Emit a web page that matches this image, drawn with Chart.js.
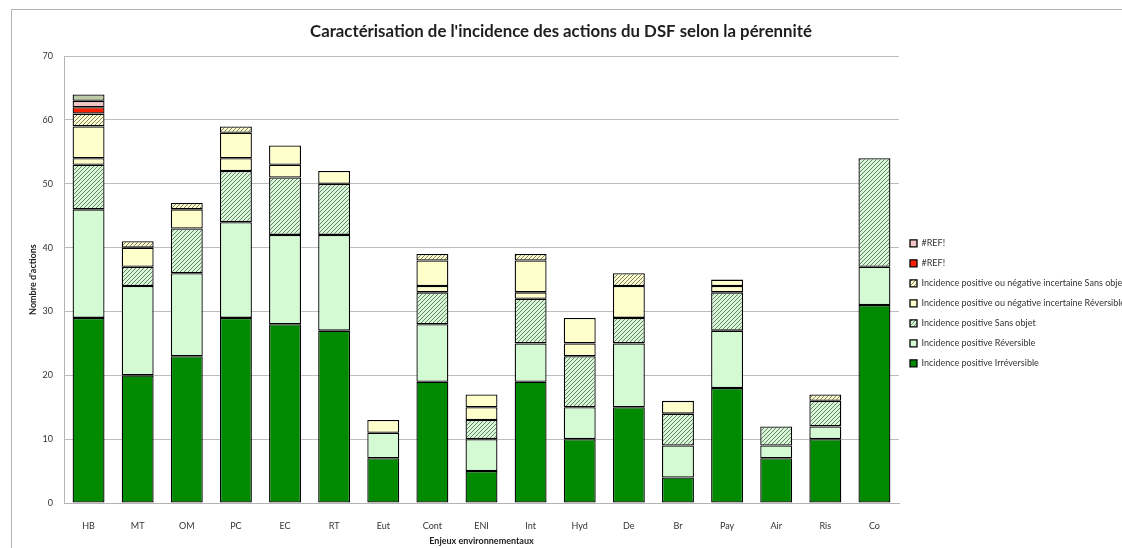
<!DOCTYPE html>
<html>
<head>
<meta charset="utf-8">
<script src="https://cdn.jsdelivr.net/npm/chart.js@4"></script>
<style>
  html, body { margin: 0; padding: 0; background: #fff; }
  #wrap { position: relative; width: 1122px; height: 548px; overflow: hidden; }
  #frame { position: absolute; left: 11px; top: 9px; width: 1200px; height: 600px;
           border-left: 1px solid #b4b4b4; border-top: 1px solid #b4b4b4; }
  canvas { position: absolute; left: 0; top: 0; }
</style>
</head>
<body>
<div id="wrap">
  <div id="frame"></div>
  <canvas id="chart" width="1122" height="548"></canvas>
</div>
<script>
const categories = ['HB', 'MT', 'OM', 'PC', 'EC', 'RT', 'Eut', 'Cont', 'ENI', 'Int', 'Hyd', 'De', 'Br', 'Pay', 'Air', 'Ris', 'Co'];

// stacked from the bottom up
const ipIrreversible   = [29, 20, 23, 29, 28, 27, 7, 19, 5, 19, 10, 15, 4, 18, 7, 10, 31];
const ipReversible     = [17, 14, 13, 15, 14, 15, 4, 9, 5, 6, 5, 10, 5, 9, 2, 2, 6];
const ipSansObjet      = [7, 3, 7, 8, 9, 8, 0, 5, 3, 7, 8, 4, 5, 6, 3, 4, 17];
const ipniIrreversible = [1, 0, 0, 2, 2, 0, 0, 1, 2, 1, 2, 0, 0, 1, 0, 0, 0];
const ipniReversible   = [5, 3, 3, 4, 3, 2, 2, 4, 2, 5, 4, 5, 2, 1, 0, 0, 0];
const ipniSansObjet    = [2, 1, 1, 1, 0, 0, 0, 1, 0, 1, 0, 2, 0, 0, 0, 1, 0];
const refRed           = [1, 0, 0, 0, 0, 0, 0, 0, 0, 0, 0, 0, 0, 0, 0, 0, 0];
const refPink          = [1, 0, 0, 0, 0, 0, 0, 0, 0, 0, 0, 0, 0, 0, 0, 0, 0];
const refGrey          = [1, 0, 0, 0, 0, 0, 0, 0, 0, 0, 0, 0, 0, 0, 0, 0, 0];

const yTicks = [0, 10, 20, 30, 40, 50, 60, 70];

const hatch = (bg) => {
  const c = document.createElement('canvas');
  c.width = 4; c.height = 4;
  const g = c.getContext('2d');
  g.fillStyle = bg;
  g.fillRect(0, 0, 4, 4);
  g.strokeStyle = '#5a5a5a';
  g.lineWidth = 0.8;
  g.beginPath();
  g.moveTo(-1, 1); g.lineTo(1, -1);
  g.moveTo(0, 4); g.lineTo(4, 0);
  g.moveTo(3, 5); g.lineTo(5, 3);
  g.stroke();
  return g.createPattern(c, 'repeat');
};

const mk = (label, data, color, inLegend = true) => ({
  label, data, backgroundColor: color, inLegend,
  borderColor: '#000', borderWidth: 1.3, borderSkipped: false,
  barPercentage: 0.65, categoryPercentage: 1
});

const datasets = [
  mk('Incidence positive Irréversible', ipIrreversible, '#008a00'),
  mk('Incidence positive Réversible', ipReversible, '#d4fad4'),
  mk('Incidence positive Sans objet', ipSansObjet, hatch('#d4fad4')),
  mk('Incidence positive ou négative incertaine Irréversible', ipniIrreversible, '#ffffcc', false),
  mk('Incidence positive ou négative incertaine Réversible', ipniReversible, '#ffffcc'),
  mk('Incidence positive ou négative incertaine Sans objet', ipniSansObjet, hatch('#ffffcc')),
  mk('#REF!', refRed, '#ff2000'),
  mk('#REF!', refPink, '#f2c6c6'),
  mk('#REF!', refGrey, '#bccba6', false)
];

const tickFont = {family: 'Lato', size: 9};

new Chart(document.getElementById('chart'), {
  type: 'bar',
  data: {labels: categories, datasets},
  options: {
    responsive: false,
    animation: false,
    layout: {padding: {top: 9, left: 0, right: 0, bottom: 0}},
    plugins: {
      title: {
        display: true,
        text: "Caractérisation de l'incidence des actions du DSF selon la pérennité",
        font: {family: 'Lato', size: 16.8, weight: 'bold'},
        color: '#1e1e1e',
        padding: {top: 13, bottom: 14}
      },
      legend: {
        position: 'right',
        align: 'center',
        reverse: true,
        maxWidth: 223,
        title: {display: true, text: ' ', padding: {top: 20, bottom: 20}, font: {size: 8}},
        labels: {
          boxWidth: 7,
          boxHeight: 7,
          padding: 11,
          color: '#333',
          font: {family: 'Lato', size: 9},
          filter: (item, chartData) => chartData.datasets[item.datasetIndex].inLegend
        }
      },
      tooltip: {enabled: false}
    },
    scales: {
      x: {
        stacked: true,
        grid: {display: false},
        border: {color: '#b4b4b4'},
        ticks: {color: '#333', font: tickFont, padding: 10},
        title: {display: true, text: 'Enjeux environnementaux', color: '#222',
                font: {family: 'Lato', size: 9, weight: 'bold'}, padding: {top: 0, bottom: 2}},
        afterFit: s => { s.height = 45; }
      },
      y: {
        stacked: true,
        min: 0,
        max: 70,
        afterBuildTicks: s => { s.ticks = yTicks.map(v => ({value: v})); },
        grid: {color: '#bdbdbd', drawTicks: false},
        border: {color: '#b4b4b4'},
        ticks: {color: '#333', font: tickFont, padding: 11},
        title: {display: true, text: "Nombre d'actions", color: '#222',
                font: {family: 'Lato', size: 9, weight: 'bold'}, padding: {top: 28, bottom: 0}},
        afterFit: s => { s.width = 64; }
      }
    }
  }
});
</script>
</body>
</html>
